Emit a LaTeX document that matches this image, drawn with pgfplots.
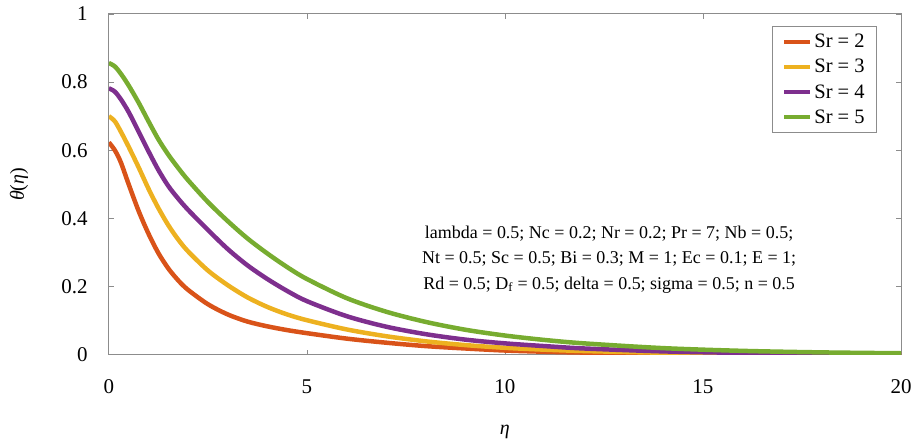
\documentclass[border=0pt]{standalone}
\usepackage{pgfplots}
\pgfplotsset{compat=1.18}
\usepackage{fontspec}
\setmainfont{Liberation Serif}

\definecolor{cSrA}{HTML}{D95319}
\definecolor{cSrB}{HTML}{EDB120}
\definecolor{cSrC}{HTML}{7E2F8E}
\definecolor{cSrD}{HTML}{77AC30}
\definecolor{axgray}{HTML}{8C8C8C}

\begin{document}
\begin{tikzpicture}
\useasboundingbox (-109pt,-93pt) rectangle (807pt,355pt);
\begin{axis}[
    at={(0pt,0pt)}, anchor=south west,
    scale only axis,
    width=793pt, height=341pt,
    xmin=0, xmax=20, ymin=0, ymax=1,
    xtick={0,5,10,15,20},
    ytick={0,0.2,0.4,0.6,0.8,1},
    tick align=inside,
    major tick length=5pt,
    every tick/.style={axgray, line width=0.8pt},
    axis line style={axgray, line width=1pt},
    /pgf/number format/assume math mode=true,
    tick label style={font=\fontsize{21}{25}\selectfont},
    xticklabel style={anchor=center, yshift=-32pt},
    yticklabel style={anchor=east, inner sep=0pt, xshift=-21pt},
    xlabel={\textit{η}},
    ylabel={\textit{θ}(\textit{η})},
    label style={font=\fontsize{20}{24}\selectfont},
    xlabel style={at={(axis description cs:0.5,-0.2258)}, anchor=center},
    ylabel style={at={(axis description cs:-0.1135,0.5)}, anchor=center},
    legend style={at={(rel axis cs:1,1)}, anchor=north east, xshift=-24pt, yshift=-12pt,
        draw=axgray, line width=0.8pt, font=\fontsize{20.5}{24}\selectfont,
        row sep=6pt, inner xsep=10pt, inner ysep=6pt},
    legend cell align=left,
    legend image code/.code={\draw[#1, line width=4pt] (0pt,0pt) -- (26pt,0pt);},
    every axis plot/.append style={line width=4.5pt, smooth},
]

% Sr = 2
\addplot[cSrA] coordinates {
(0,0.623) (0.15,0.600) (0.3,0.565) (0.5,0.500) (0.75,0.422) (1.0,0.355) (1.25,0.298)
(1.5,0.253) (1.75,0.218) (2.0,0.190) (2.5,0.148) (3.0,0.118) (3.5,0.097) (4.0,0.083)
(4.5,0.072) (5.0,0.063) (6.0,0.047) (7.0,0.035) (8.0,0.025) (9.0,0.018) (10,0.012)
(11,0.0085) (12,0.006) (14,0.003) (16,0.0015) (18,0.0007) (20,0.0003)};
\addlegendentry{Sr = 2}

% Sr = 3
\addplot[cSrB] coordinates {
(0,0.700) (0.15,0.685) (0.3,0.655) (0.5,0.610) (0.75,0.550) (1.0,0.487) (1.25,0.430)
(1.5,0.380) (1.75,0.338) (2.0,0.303) (2.5,0.247) (3.0,0.204) (3.5,0.168) (4.0,0.140)
(4.5,0.118) (5.0,0.101) (6.0,0.074) (7.0,0.054) (8.0,0.039) (9.0,0.028) (10,0.020)
(11,0.0145) (12,0.0105) (14,0.0055) (16,0.0028) (18,0.0015) (20,0.0008)};
\addlegendentry{Sr = 3}

% Sr = 4
\addplot[cSrC] coordinates {
(0,0.782) (0.15,0.772) (0.3,0.750) (0.5,0.712) (0.75,0.655) (1.0,0.597) (1.25,0.542)
(1.5,0.495) (1.75,0.458) (2.0,0.425) (2.5,0.366) (3.0,0.310) (3.5,0.262) (4.0,0.222)
(4.5,0.187) (5.0,0.157) (6.0,0.113) (7.0,0.082) (8.0,0.060) (9.0,0.044) (10,0.033)
(11,0.025) (12,0.018) (14,0.0095) (16,0.005) (18,0.0027) (20,0.0015)};
\addlegendentry{Sr = 4}

% Sr = 5
\addplot[cSrD] coordinates {
(0,0.856) (0.15,0.846) (0.3,0.825) (0.5,0.790) (0.75,0.740) (1.0,0.685) (1.25,0.632)
(1.5,0.587) (1.75,0.548) (2.0,0.512) (2.5,0.448) (3.0,0.392) (3.5,0.341) (4.0,0.297)
(4.5,0.257) (5.0,0.222) (6.0,0.166) (7.0,0.126) (8.0,0.096) (9.0,0.073) (10,0.056)
(11,0.043) (12,0.033) (14,0.019) (16,0.011) (18,0.0065) (20,0.004)};
\addlegendentry{Sr = 5}

\node[align=center, font=\fontsize{18}{25.5}\selectfont] at (axis cs:12.63,0.28)
  {lambda = 0.5; Nc = 0.2; Nr = 0.2; Pr = 7; Nb = 0.5;\\
   Nt = 0.5; Sc = 0.5; Bi = 0.3; M = 1; Ec = 0.1; E = 1;\\
   Rd = 0.5; D\textsubscript{f} = 0.5; delta = 0.5; sigma = 0.5; n = 0.5};

\end{axis}
\end{tikzpicture}
\end{document}
